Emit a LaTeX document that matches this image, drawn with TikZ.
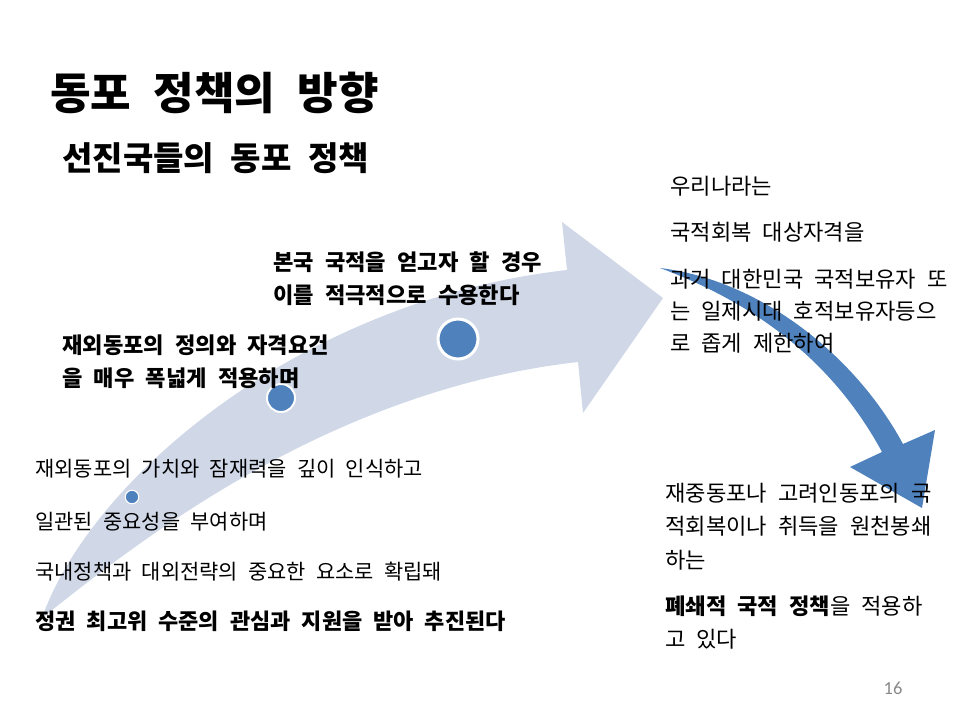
\documentclass[tikz,border=0pt]{standalone}
\usepackage{fontspec}
\setmainfont{Noto Sans CJK KR}[WordSpace=2.2]
\newfontfamily\numfont{Carlito}
\definecolor{arrowlight}{RGB}{208,216,232}
\definecolor{arrowblue}{RGB}{79,129,189}
\definecolor{pagegray}{RGB}{137,137,137}

\begin{document}
\begin{tikzpicture}[x=0.02cm, y=-0.02cm,
    every node/.style={inner sep=0pt, anchor=west, align=left},
    dot/.style={circle, draw=white, fill=arrowblue, anchor=center},
    titletext/.style={font=\fontsize{25.1}{30}\selectfont\bfseries},
    subtext/.style={font=\fontsize{18.8}{23}\selectfont\bfseries},
    bodytext/.style={font=\fontsize{11.9}{14}\selectfont},
    boldtext/.style={font=\fontsize{12.6}{18.7}\selectfont\bfseries},
    righttext/.style={font=\fontsize{12.6}{18.1}\selectfont},
    lowtext/.style={font=\fontsize{12.6}{19}\selectfont}]
    \useasboundingbox (0,0) rectangle (960,720);

    % Arrows
    \fill[arrowlight] (42,618) .. controls (90,480) and (300,300) .. (567,270)
        -- (562,222) -- (663,298) -- (583,413) -- (578,362)
        .. controls (330,390) and (140,540) .. (42,618) -- cycle;
    \fill[arrowblue] (660,268) .. controls (760,280) and (855,355) .. (903,444)
        -- (935,430) -- (922,508) -- (850,467) -- (882,452)
        .. controls (835,365) and (760,305) .. (660,268) -- cycle;

    % Dots
    \node[dot, minimum size=0.27cm, line width=0.6pt] (c1) at (132,497) {};
    \node[dot, minimum size=0.56cm, line width=1.1pt] (c2) at (281,398) {};
    \node[dot, minimum size=0.8cm, line width=1.7pt] (c3) at (458,339) {};

    % Titles
    \node[titletext] (title) at (50,93) {동포 정책의 방향};
    \node[subtext] (sub) at (62,158) {선진국들의 동포 정책};

    % Left side
    \node[bodytext] (l1) at (35,469) {재외동포의 가치와 잠재력을 깊이 인식하고};
    \node[bodytext] (l2) at (35,522) {일관된 중요성을 부여하며};
    \node[bodytext] (l3) at (35,572) {국내정책과 대외전략의 중요한 요소로 확립돼};
    \node[bodytext, font=\fontsize{12.5}{14}\selectfont\bfseries] (l4) at (35,621) {정권 최고위 수준의 관심과 지원을 받아 추진된다};
    \node[boldtext] (m1) at (62,361.5) {재외동포의 정의와 자격요건\\을 매우 폭넓게 적용하며};
    \node[boldtext] (m2) at (273,278.5) {본국 국적을 얻고자 할 경우\\이를 적극적으로 수용한다};

    % Right side
    \node[righttext] (r1) at (670,186) {우리나라는};
    \node[righttext] (r2) at (670,232) {국적회복 대상자격을};
    \node[righttext] (r3) at (670,311) {과거 대한민국 국적보유자 또\\는 일제시대 호적보유자등으\\로 좁게 제한하여};
    \node[lowtext] (r4) at (665,526.5) {재중동포나 고려인동포의 국\\적회복이나 취득을 원천봉쇄\\하는};
    \node[lowtext] (r5) at (665,622.5) {\textbf{폐쇄적 국적 정책}을 적용하\\고 있다};

    % Page number
    \node[font=\numfont\fontsize{10.5}{12}\selectfont, text=pagegray, anchor=center] (page) at (893,688) {16};
\end{tikzpicture}
\end{document}
